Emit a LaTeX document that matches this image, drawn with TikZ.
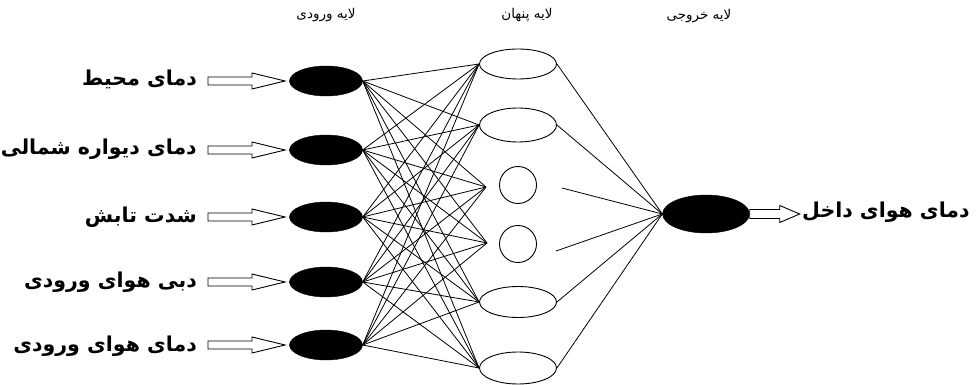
\documentclass[tikz,border=0pt]{standalone}
\usepackage{fontspec}
\usetikzlibrary{shapes.geometric}
\TeXXeTstate=1
\newfontfamily\arabicfont[Script=Arabic]{DejaVu Sans}
\newfontfamily\arabicbold[Script=Arabic]{DejaVu Sans Bold}
\begin{document}
\begin{tikzpicture}[x=1pt,y=-1pt,
  inp/.style={ellipse,draw=black,fill=black,minimum width=73pt,minimum height=30pt,inner sep=0pt},
  hid/.style={ellipse,draw=black,line width=0.9pt,minimum width=77pt,minimum height=32pt,inner sep=0pt},
  hcirc/.style={circle,draw=black,line width=0.9pt,minimum size=37pt,inner sep=0pt},
  outn/.style={ellipse,draw=black,fill=black,minimum width=87pt,minimum height=38pt,inner sep=0pt},
  lbl/.style={anchor=east,inner sep=0pt,font=\arabicbold\fontsize{20.5}{24}\selectfont},
  hdr/.style={inner sep=0pt,font=\arabicfont\fontsize{13.5}{16}\selectfont},
  conn/.style={line width=0.8pt},
  blk/.style={draw=black,fill=white,line width=0.9pt,line join=miter}]
\useasboundingbox (0,0) rectangle (978,385);
% headers
\node[hdr] (t1) at (326,15) {\beginR لایه ورودی\endR};
\node[hdr] (t2) at (527,15) {\beginR لایه پنهان\endR};
\node[hdr] (t3) at (699,16) {\beginR لایه خروجی\endR};
% input nodes
\node[inp] (i1) at (326,81) {};
\node[inp] (i2) at (326,150) {};
\node[inp] (i3) at (326,217) {};
\node[inp] (i4) at (326,282) {};
\node[inp] (i5) at (326,345) {};
% hidden nodes
\node[hid,minimum height=30pt] (h1) at (518,64) {};
\node[hid,minimum height=34pt] (h2) at (518,125) {};
\node[hcirc] (h3) at (518,185) {};
\node[hcirc] (h4) at (518,244) {};
\node[hid,minimum height=31pt] (h5) at (518,302) {};
\node[hid,minimum height=32pt] (h6) at (518,368) {};
\coordinate (h3in) at (486,187);
\coordinate (h4in) at (487,243);
\coordinate (h3out) at (562,188);
\coordinate (h4out) at (556,251);
% output
\node[outn] (o) at (706,214) {};
% connections input-hidden
\foreach \i in {1,...,5}{
  \foreach \h in {h1.west,h2.west,h3in,h4in,h5.west,h6.west}{
    \draw[conn] (i\i.east) -- (\h);
  }
}
% hidden-output
\foreach \h in {h1.east,h2.east,h3out,h4out,h5.east,h6.east}{
  \draw[conn] (\h) -- (o.west);
}
% input arrows and labels
\foreach \n/\y in {1/81,2/150,3/217,4/282,5/345}{
  \coordinate (a\n) at (208,\y);
  \draw[blk] (a\n) ++(0,-4) -- ++(44,0) -- ++(0,-4) -- ++(33,8) -- ++(-33,8) -- ++(0,-4) -- ++(-44,0) -- cycle;
  \draw[line width=0.9pt] (a\n) ++(85,0) -- (i\n.west);
}
\node[lbl] (l1) at (197,79) {\beginR دمای محیط\endR};
\node[lbl] (l2) at (197,149) {\beginR دمای دیواره شمالی\endR};
\node[lbl] (l3) at (197,217) {\beginR شدت تابش\endR};
\node[lbl] (l4) at (197,282) {\beginR دبی هوای ورودی\endR};
\node[lbl] (l5) at (197,346) {\beginR دمای هوای ورودی\endR};
% output arrow
\draw[blk] (o.east) ++(0,-4.5) -- ++(30,0) -- ++(0,-4) -- ++(20,8.5) -- ++(-20,8.5) -- ++(0,-4) -- ++(-30,0) -- cycle;
\node[lbl,anchor=west] (lo) at (802,212) {\beginR دمای هوای داخل\endR};
\end{tikzpicture}
\end{document}
